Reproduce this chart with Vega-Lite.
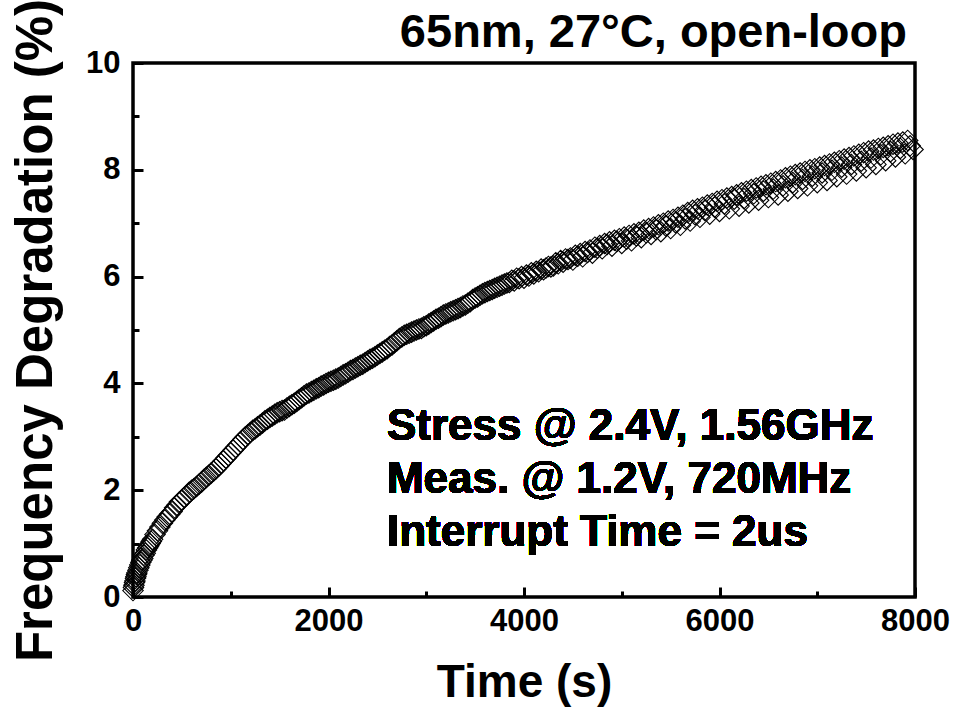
{
"$schema": "https://vega.github.io/schema/vega-lite/v6.json",
"width": 782, "height": 534,
"autosize": {"type": "none"},
"padding": {"left": 133, "top": 63, "right": 44, "bottom": 116},
"background": "white",
"config": {"view": {"stroke": "black", "strokeWidth": 3.5}, "font": "Liberation Sans", "axis": {"grid": false, "domain": false}},
"title": {"text": "65nm, 27°C, open-loop", "anchor": "end", "frame": "group", "fontSize": 47, "fontWeight": "bold", "color": "black", "dx": -8, "dy": 69, "offset": 10, "font": "Liberation Sans"},
"data": {"values": [
{"t":0,"v":0.12},{"t":5,"v":0.18},{"t":10,"v":0.22},{"t":15,"v":0.27},{"t":20,"v":0.3},{"t":25,"v":0.35},{"t":30,"v":0.38},{"t":35,"v":0.42},{"t":40,"v":0.45},{"t":50,"v":0.5},{"t":60,"v":0.55},{"t":70,"v":0.6},{"t":80,"v":0.65},{"t":90,"v":0.69},{"t":100,"v":0.72},{"t":112,"v":0.78},{"t":125,"v":0.82},{"t":137,"v":0.88},{"t":150,"v":0.92},{"t":162,"v":0.96},{"t":175,"v":1.0},{"t":187,"v":1.04},{"t":200,"v":1.08},{"t":225,"v":1.17},{"t":250,"v":1.24},{"t":275,"v":1.31},{"t":300,"v":1.38},{"t":325,"v":1.44},{"t":350,"v":1.5},{"t":375,"v":1.55},{"t":400,"v":1.6},{"t":425,"v":1.67},{"t":450,"v":1.72},{"t":475,"v":1.78},{"t":500,"v":1.82},{"t":525,"v":1.86},{"t":550,"v":1.9},{"t":575,"v":1.96},{"t":600,"v":2.0},{"t":625,"v":2.03},{"t":650,"v":2.07},{"t":675,"v":2.11},{"t":700,"v":2.15},{"t":725,"v":2.2},{"t":750,"v":2.24},{"t":775,"v":2.28},{"t":800,"v":2.32},{"t":825,"v":2.36},{"t":850,"v":2.4},{"t":875,"v":2.45},{"t":900,"v":2.5},{"t":925,"v":2.55},{"t":950,"v":2.6},{"t":975,"v":2.65},{"t":1000,"v":2.7},{"t":1025,"v":2.75},{"t":1050,"v":2.8},{"t":1075,"v":2.85},{"t":1100,"v":2.9},{"t":1125,"v":2.95},{"t":1150,"v":3.0},{"t":1175,"v":3.04},{"t":1200,"v":3.08},{"t":1225,"v":3.12},{"t":1250,"v":3.15},{"t":1275,"v":3.19},{"t":1300,"v":3.22},{"t":1325,"v":3.26},{"t":1350,"v":3.3},{"t":1375,"v":3.33},{"t":1400,"v":3.36},{"t":1425,"v":3.39},{"t":1450,"v":3.42},{"t":1475,"v":3.45},{"t":1500,"v":3.47},{"t":1525,"v":3.49},{"t":1550,"v":3.5},{"t":1575,"v":3.54},{"t":1600,"v":3.57},{"t":1625,"v":3.6},{"t":1650,"v":3.63},{"t":1675,"v":3.66},{"t":1700,"v":3.7},{"t":1725,"v":3.73},{"t":1750,"v":3.77},{"t":1775,"v":3.8},{"t":1800,"v":3.82},{"t":1825,"v":3.85},{"t":1850,"v":3.87},{"t":1875,"v":3.9},{"t":1900,"v":3.92},{"t":1925,"v":3.95},{"t":1950,"v":3.97},{"t":1975,"v":4.0},{"t":2000,"v":4.02},{"t":2025,"v":4.04},{"t":2050,"v":4.06},{"t":2075,"v":4.08},{"t":2100,"v":4.1},{"t":2125,"v":4.13},{"t":2150,"v":4.16},{"t":2175,"v":4.18},{"t":2200,"v":4.21},{"t":2225,"v":4.24},{"t":2250,"v":4.26},{"t":2275,"v":4.29},{"t":2300,"v":4.31},{"t":2325,"v":4.34},{"t":2350,"v":4.36},{"t":2375,"v":4.39},{"t":2400,"v":4.42},{"t":2425,"v":4.45},{"t":2450,"v":4.47},{"t":2475,"v":4.5},{"t":2500,"v":4.53},{"t":2525,"v":4.56},{"t":2550,"v":4.59},{"t":2575,"v":4.62},{"t":2600,"v":4.65},{"t":2625,"v":4.69},{"t":2650,"v":4.72},{"t":2675,"v":4.76},{"t":2700,"v":4.8},{"t":2725,"v":4.84},{"t":2750,"v":4.87},{"t":2775,"v":4.9},{"t":2800,"v":4.92},{"t":2825,"v":4.94},{"t":2850,"v":4.96},{"t":2875,"v":4.98},{"t":2900,"v":5.0},{"t":2925,"v":5.02},{"t":2950,"v":5.03},{"t":2975,"v":5.06},{"t":3000,"v":5.08},{"t":3025,"v":5.11},{"t":3050,"v":5.14},{"t":3075,"v":5.17},{"t":3100,"v":5.2},{"t":3125,"v":5.22},{"t":3150,"v":5.25},{"t":3175,"v":5.28},{"t":3200,"v":5.3},{"t":3225,"v":5.32},{"t":3250,"v":5.34},{"t":3275,"v":5.36},{"t":3300,"v":5.38},{"t":3325,"v":5.4},{"t":3350,"v":5.42},{"t":3375,"v":5.45},{"t":3400,"v":5.47},{"t":3425,"v":5.5},{"t":3450,"v":5.53},{"t":3475,"v":5.57},{"t":3500,"v":5.6},{"t":3525,"v":5.62},{"t":3550,"v":5.65},{"t":3575,"v":5.68},{"t":3600,"v":5.7},{"t":3625,"v":5.72},{"t":3650,"v":5.74},{"t":3675,"v":5.76},{"t":3700,"v":5.78},{"t":3725,"v":5.8},{"t":3750,"v":5.82},{"t":3775,"v":5.84},{"t":3800,"v":5.86},{"t":3825,"v":5.88},{"t":3850,"v":5.89},{"t":3875,"v":5.93},{"t":3900,"v":5.92},{"t":3925,"v":5.97},{"t":3950,"v":5.96},{"t":3975,"v":6.0},{"t":4000,"v":5.97},{"t":4025,"v":6.03},{"t":4050,"v":6.01},{"t":4075,"v":6.07},{"t":4100,"v":6.05},{"t":4125,"v":6.1},{"t":4150,"v":6.09},{"t":4175,"v":6.14},{"t":4200,"v":6.13},{"t":4225,"v":6.16},{"t":4250,"v":6.19},{"t":4275,"v":6.18},{"t":4300,"v":6.2},{"t":4325,"v":6.26},{"t":4350,"v":6.24},{"t":4375,"v":6.3},{"t":4400,"v":6.27},{"t":4425,"v":6.33},{"t":4450,"v":6.32},{"t":4475,"v":6.35},{"t":4500,"v":6.31},{"t":4525,"v":6.4},{"t":4550,"v":6.38},{"t":4575,"v":6.43},{"t":4600,"v":6.37},{"t":4625,"v":6.47},{"t":4650,"v":6.45},{"t":4675,"v":6.5},{"t":4700,"v":6.44},{"t":4725,"v":6.55},{"t":4750,"v":6.53},{"t":4775,"v":6.58},{"t":4800,"v":6.52},{"t":4825,"v":6.62},{"t":4850,"v":6.6},{"t":4875,"v":6.65},{"t":4900,"v":6.57},{"t":4925,"v":6.68},{"t":4950,"v":6.66},{"t":4975,"v":6.71},{"t":5000,"v":6.62},{"t":5025,"v":6.74},{"t":5050,"v":6.7},{"t":5075,"v":6.77},{"t":5100,"v":6.67},{"t":5125,"v":6.8},{"t":5150,"v":6.76},{"t":5175,"v":6.83},{"t":5200,"v":6.73},{"t":5225,"v":6.87},{"t":5250,"v":6.82},{"t":5275,"v":6.9},{"t":5300,"v":6.79},{"t":5325,"v":6.93},{"t":5350,"v":6.88},{"t":5375,"v":6.97},{"t":5400,"v":6.84},{"t":5425,"v":7.0},{"t":5450,"v":6.95},{"t":5475,"v":7.04},{"t":5500,"v":6.9},{"t":5525,"v":7.07},{"t":5550,"v":7.01},{"t":5575,"v":7.11},{"t":5600,"v":6.96},{"t":5625,"v":7.15},{"t":5650,"v":7.08},{"t":5675,"v":7.2},{"t":5700,"v":7.04},{"t":5725,"v":7.24},{"t":5750,"v":7.16},{"t":5775,"v":7.27},{"t":5800,"v":7.11},{"t":5825,"v":7.3},{"t":5850,"v":7.24},{"t":5875,"v":7.34},{"t":5900,"v":7.17},{"t":5925,"v":7.37},{"t":5950,"v":7.3},{"t":5975,"v":7.41},{"t":6000,"v":7.22},{"t":6025,"v":7.44},{"t":6050,"v":7.36},{"t":6075,"v":7.47},{"t":6100,"v":7.27},{"t":6125,"v":7.5},{"t":6150,"v":7.45},{"t":6175,"v":7.53},{"t":6200,"v":7.32},{"t":6225,"v":7.57},{"t":6250,"v":7.46},{"t":6275,"v":7.6},{"t":6300,"v":7.38},{"t":6325,"v":7.63},{"t":6350,"v":7.55},{"t":6375,"v":7.66},{"t":6400,"v":7.43},{"t":6425,"v":7.69},{"t":6450,"v":7.6},{"t":6475,"v":7.72},{"t":6500,"v":7.48},{"t":6525,"v":7.75},{"t":6550,"v":7.64},{"t":6575,"v":7.78},{"t":6600,"v":7.53},{"t":6625,"v":7.81},{"t":6650,"v":7.7},{"t":6675,"v":7.85},{"t":6700,"v":7.6},{"t":6725,"v":7.88},{"t":6750,"v":7.76},{"t":6775,"v":7.91},{"t":6800,"v":7.65},{"t":6825,"v":7.94},{"t":6850,"v":7.82},{"t":6875,"v":7.97},{"t":6900,"v":7.7},{"t":6925,"v":8.0},{"t":6950,"v":7.88},{"t":6975,"v":8.02},{"t":7000,"v":7.76},{"t":7025,"v":8.05},{"t":7050,"v":7.94},{"t":7075,"v":8.08},{"t":7100,"v":7.8},{"t":7125,"v":8.11},{"t":7150,"v":7.99},{"t":7175,"v":8.14},{"t":7200,"v":7.87},{"t":7225,"v":8.17},{"t":7250,"v":8.05},{"t":7275,"v":8.2},{"t":7300,"v":7.92},{"t":7325,"v":8.23},{"t":7350,"v":8.1},{"t":7375,"v":8.26},{"t":7400,"v":7.98},{"t":7425,"v":8.29},{"t":7450,"v":8.16},{"t":7475,"v":8.32},{"t":7500,"v":8.04},{"t":7525,"v":8.35},{"t":7550,"v":8.22},{"t":7575,"v":8.37},{"t":7600,"v":8.1},{"t":7625,"v":8.4},{"t":7650,"v":8.28},{"t":7675,"v":8.42},{"t":7700,"v":8.17},{"t":7725,"v":8.45},{"t":7750,"v":8.34},{"t":7775,"v":8.48},{"t":7800,"v":8.24},{"t":7825,"v":8.5},{"t":7850,"v":8.4},{"t":7875,"v":8.52},{"t":7900,"v":8.3},{"t":7925,"v":8.55},{"t":7950,"v":8.45},{"t":7980,"v":8.38}
]},
"layer": [
{"mark": {"type": "point", "shape": "diamond", "size": 420, "filled": false, "stroke": "black", "strokeWidth": 1.1, "opacity": 1},
 "encoding": {
  "x": {"field": "t", "type": "quantitative", "scale": {"domain": [0, 8000], "nice": false},
   "axis": {"orient": "bottom", "values": [0, 2000, 4000, 6000, 8000], "format": "d", "title": "Time (s)", "tickSize": -10, "tickWidth": 3, "tickColor": "black", "labelPadding": 19, "labelFontSize": 31, "labelFontWeight": "bold", "labelColor": "black", "labelFont": "Liberation Sans", "labelFlush": false, "labelOverlap": false, "titleFont": "Liberation Sans", "titleFontSize": 46, "titleFontWeight": "bold", "titleColor": "black", "titlePadding": 24}},
  "y": {"field": "v", "type": "quantitative", "scale": {"domain": [0, 10], "nice": false},
   "axis": {"orient": "left", "values": [0, 2, 4, 6, 8, 10], "format": "d", "title": "Frequency Degradation (%)", "tickSize": -10, "tickWidth": 3, "tickColor": "black", "labelPadding": 23, "labelFontSize": 31, "labelFontWeight": "bold", "labelColor": "black", "labelFont": "Liberation Sans", "labelFlush": false, "labelOverlap": false, "titleFont": "Liberation Sans", "titleFontSize": 51, "titleFontWeight": "bold", "titleColor": "black", "titlePadding": 23}}
 }},
{"mark": {"type": "text", "text": ["Stress @ 2.4V, 1.56GHz", "Meas. @ 1.2V, 720MHz", "Interrupt Time = 2us"], "align": "left", "baseline": "alphabetic", "fontSize": 44, "fontWeight": "bold", "font": "Liberation Sans", "color": "black", "lineHeight": 53},
 "encoding": {
  "x": {"datum": 2598, "type": "quantitative", "axis": {"orient": "bottom", "values": [1000, 3000, 5000, 7000], "labels": false, "title": null, "tickSize": -6, "tickWidth": 3, "tickColor": "black"}},
  "y": {"datum": 2.94, "type": "quantitative", "axis": {"orient": "left", "values": [1, 3, 5, 7, 9], "labels": false, "title": null, "tickSize": -6, "tickWidth": 3, "tickColor": "black"}}
 }}
],
"resolve": {"axis": {"x": "independent", "y": "independent"}}
}
